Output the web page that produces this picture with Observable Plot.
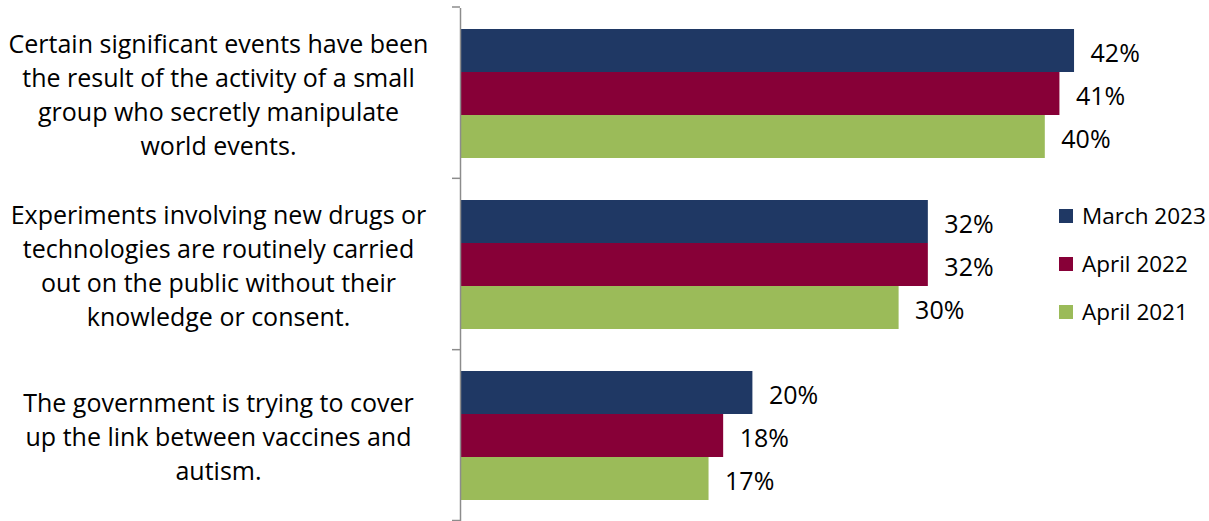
<!DOCTYPE html>
<html>
<head>
<meta charset="utf-8">
<script src="https://cdn.jsdelivr.net/npm/d3@7"></script>
<script src="https://cdn.jsdelivr.net/npm/@observablehq/plot@0.6"></script>
<style>
  html, body { margin: 0; padding: 0; background: #fff; overflow: hidden; }
  #chart svg { display: block; }
</style>
</head>
<body>
<div id="chart"></div>
<script>
const categories = [
  "Certain significant events have been\nthe result of the activity of a small\ngroup who secretly manipulate\nworld events.",
  "Experiments involving new drugs or\ntechnologies are routinely carried\nout on the public without their\nknowledge or consent.",
  "The government is trying to cover\nup the link between vaccines and\nautism."
];
const series = ["March 2023", "April 2022", "April 2021"];
const march2023 = [42, 32, 20];
const april2022 = [41, 32, 18];
const april2021 = [40, 30, 17];
const seriesColors = ["#1f3864", "#870037", "#9bbb59"];

const valuesBySeries = [march2023, april2022, april2021];
const rows = [];
categories.forEach((c, ci) => {
  series.forEach((s, si) => {
    rows.push({category: c, series: s, value: valuesBySeries[si][ci]});
  });
});

const FAMILY = "'Open Sans', Lato, sans-serif";
const FONT = 25;
const chart = Plot.plot({
  width: 1209,
  height: 521,
  marginLeft: 460,
  marginRight: 18,
  marginTop: 7,
  marginBottom: 0,
  style: {fontFamily: FAMILY, background: "#fff", color: "#000"},
  x: {domain: [0, 50], axis: null},
  y: {domain: series, axis: null, paddingInner: 0, paddingOuter: 0.477},
  fy: {domain: categories, axis: null, padding: 0},
  color: {domain: series, range: seriesColors},
  marks: [
    Plot.barX(rows, {x: "value", y: "series", fy: "category", fill: "series"}),
    Plot.text(rows, {
      x: "value", y: "series", fy: "category",
      text: d => d.value + "%", textAnchor: "start", dx: 16, dy: 3,
      fontSize: FONT, fill: "#000"
    }),
    Plot.text(categories, {
      fy: d => d, text: d => d, frameAnchor: "left", dx: -242, dy: -1,
      textAnchor: "middle", lineHeight: 1.37, fontSize: FONT, fill: "#000"
    }),
    Plot.ruleX([0], {stroke: "#8c8c8c", strokeWidth: 1.5})
  ]
});
document.getElementById("chart").appendChild(chart);

// category boundary ticks on the left of the axis, from the fy scale
const fy = chart.scale("fy");
const svg = d3.select(chart);
const r0 = fy.range[0], r1 = fy.range[1];
const n = fy.domain.length;
const x0 = chart.scale("x").apply(0);
for (let i = 0; i <= n; i++) {
  const yy = Math.min(r0 + (r1 - r0) * i / n, 520.5);
  svg.append("line")
    .attr("x1", x0 - 8).attr("x2", x0)
    .attr("y1", yy).attr("y2", yy)
    .attr("stroke", "#8c8c8c").attr("stroke-width", 1.5);
}

// legend
const color = chart.scale("color");
const lg = svg.append("g").attr("transform", "translate(1059,0)")
  .attr("text-anchor", "start").attr("font-family", FAMILY);
color.domain.forEach((s, i) => {
  const cy = 216 + i * 48;
  lg.append("rect").attr("x", 0).attr("y", cy - 7).attr("width", 14).attr("height", 14)
    .attr("fill", color.apply(s));
  lg.append("text").attr("x", 23).attr("y", cy).attr("dy", "0.36em")
    .attr("text-anchor", "start")
    .attr("font-size", 22.5).attr("fill", "#000").text(s);
});
</script>
</body>
</html>
